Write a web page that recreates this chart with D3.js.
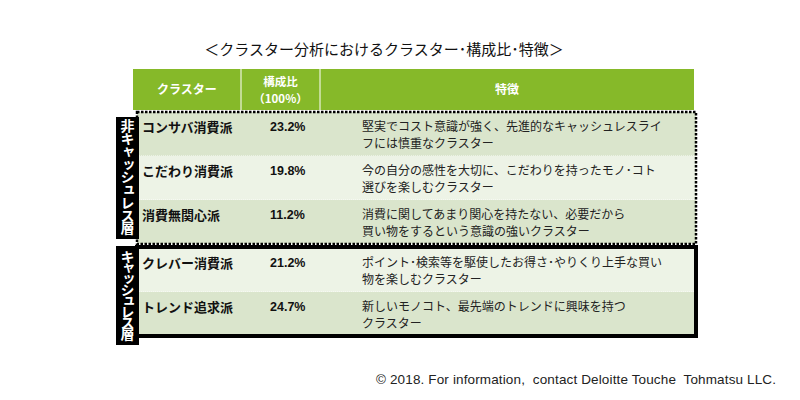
<!DOCTYPE html>
<html><head><meta charset="utf-8">
<script src="https://cdn.jsdelivr.net/npm/d3@7"></script>
<style>body{margin:0;background:#fff}svg{display:block}</style>
</head><body>
<script>
const title = "＜クラスター分析におけるクラスター･構成比･特徴＞";
const headers = [["クラスター"], ["構成比", "（100%）"], ["特徴"]];
const clusters = ["コンサバ消費派", "こだわり消費派", "消費無関心派", "クレバー消費派", "トレンド追求派"];
const shares = [23.2, 19.8, 11.2, 21.2, 24.7];
const descLine1 = ["堅実でコスト意識が強く、先進的なキャッシュレスライ", "今の自分の感性を大切に、こだわりを持ったモノ･コト", "消費に関してあまり関心を持たない、必要だから", "ポイント･検索等を駆使したお得さ･やりくり上手な買い", "新しいモノコト、最先端のトレンドに興味を持つ"];
const descLine2 = ["フには慎重なクラスター", "選びを楽しむクラスター", "買い物をするという意識の強いクラスター", "物を楽しむクラスター", "クラスター"];
const groups = ["非キャッシュレス層", "非キャッシュレス層", "非キャッシュレス層", "キャッシュレス層", "キャッシュレス層"];
const groupNames = ["非キャッシュレス層", "キャッシュレス層"];
const footer = "© 2018. For information,  contact Deloitte Touche  Tohmatsu LLC.";

const W = 800, H = 400;
const svg = d3.select("body").append("svg").attr("width", W).attr("height", H);
const jp = "'Noto Sans CJK JP', sans-serif";

const green = "#86b929", dark = "#dae5cc", light = "#edf3e6";

// Columns
const colX = d3.scaleOrdinal().domain([0, 1, 2, 3]).range([137, 241, 320, 696]);
// Rows: index-based linear scale, with gap between groups
const rowH = 44;
const rowY = d3.scaleLinear().domain([0, 1]).range([112, 112 + rowH]);
const gIdx = i => groupNames.indexOf(groups[i]);
const yOf = i => rowY(i) + gIdx(i) * 4;

// Title
svg.append("text").attr("x", 384).attr("y", 55).attr("text-anchor", "middle")
  .attr("font-family", jp).attr("font-size", 15).attr("fill", "#111").text(title);

// Header
svg.append("rect").attr("x", 133).attr("y", 69).attr("width", colX(3) - 2 - 133).attr("height", 41).attr("fill", green);
[1, 2].forEach(c => svg.append("line").attr("x1", colX(c)).attr("x2", colX(c)).attr("y1", 69).attr("y2", 110)
  .attr("stroke", "#fff").attr("stroke-width", 1));
headers.forEach((h, c) => {
  const cx = c === 0 ? (133 + colX(1)) / 2 : (colX(c) + colX(c + 1) - (c === 2 ? 2 : 0)) / 2;
  h.forEach((s, k) => svg.append("text").attr("text-anchor", "middle").attr("font-family", jp)
    .attr("font-size", h.length > 1 ? 11.5 : 12).attr("font-weight", "bold").attr("fill", "#fff")
    .attr("x", cx).attr("y", 94 - (h.length - 1) * 8.5 + k * 17).text(s));
});

// Rows
const rows = svg.append("g").selectAll("g").data(clusters).join("g")
  .attr("transform", (d, i) => `translate(0,${yOf(i)})`);
rows.append("rect").attr("x", colX(0)).attr("y", 0).attr("width", colX(3) - colX(0)).attr("height", rowH)
  .attr("fill", (d, i) => i % 2 === 0 ? dark : light);
rows.append("line").attr("x1", colX(0)).attr("x2", colX(3)).attr("y1", rowH).attr("y2", rowH)
  .attr("stroke", "#fff").attr("stroke-width", 1).attr("stroke-dasharray", "1,1");
rows.append("text").attr("x", colX(0) + 5).attr("y", 20).attr("font-family", jp)
  .attr("font-size", 13).attr("font-weight", "bold").attr("fill", "#111").text(d => d);
rows.append("text").attr("x", colX(1) + 29).attr("y", 19).attr("font-family", "'Liberation Sans', Arial, sans-serif")
  .attr("font-size", 12.5).attr("font-weight", "bold").attr("fill", "#111").text((d, i) => shares[i].toFixed(1) + "%");
rows.append("text").attr("font-family", jp).attr("font-size", 12).attr("fill", "#222")
  .attr("x", colX(2) + 42).attr("y", 18.5).text((d, i) => descLine1[i]);
rows.append("text").attr("font-family", jp).attr("font-size", 12).attr("fill", "#222")
  .attr("x", colX(2) + 42).attr("y", 36).text((d, i) => descLine2[i]);

// Group borders
groupNames.forEach((g, gi) => {
  const idx = d3.range(clusters.length).filter(i => gIdx(i) === gi);
  const y0 = yOf(idx[0]), y1 = yOf(idx[idx.length - 1]) + rowH;
  svg.append("rect").attr("x", colX(0)).attr("y", y0 - (gi ? 1 : 0)).attr("width", colX(3) - colX(0))
    .attr("height", y1 - y0 + (gi ? 1 : 0)).attr("fill", "none").attr("stroke", "#000")
    .attr("stroke-width", gi ? 4 : 2.5).attr("stroke-dasharray", gi ? null : "2.5,1.5");
  // Label box
  const ly0 = y0 + (gi ? 0 : 5), ly1 = y1 + (gi ? 9 : -5);
  svg.append("rect").attr("x", 116).attr("y", ly0 - (gi ? 2 : 0)).attr("width", 23).attr("height", ly1 - ly0 + (gi ? 2 : 0)).attr("fill", "#000");
  svg.append("text").attr("x", 127.5).attr("y", ly0 + 2).attr("writing-mode", "vertical-rl")
    .attr("font-family", jp).attr("font-size", 14).attr("font-weight", "bold").attr("fill", "#fff")
    .attr("textLength", ly1 - ly0 - 6).attr("lengthAdjust", "spacing").text(g);
});

// Footer
svg.append("text").attr("x", 376).attr("y", 384)
  .attr("font-family", "'Liberation Sans', Arial, sans-serif").attr("font-size", 13.5).attr("fill", "#222")
  .attr("textLength", 400).attr("lengthAdjust", "spacing")
  .attr("xml:space", "preserve").style("white-space", "pre").text(footer);
</script>
</body></html>
